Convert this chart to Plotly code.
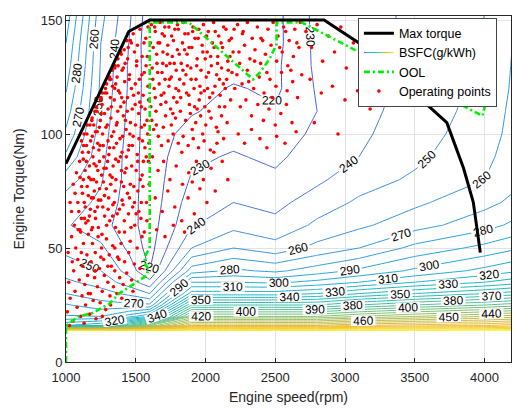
import plotly.graph_objects as go

# ---------------- BSFC map (g/kWh) ----------------
map_speed = [1000, 1250, 1450, 1600, 1900, 2200, 2500, 2800, 3100, 3500, 4000, 4200]
map_torque = [13.6, 16, 20, 25, 30, 35, 40, 50, 60, 70, 80, 90, 100, 110, 120, 130, 140, 152]

bsfc_1000 = [551, 320, 291, 281, 270, 262, 256, 247, 241, 245, 255, 268, 278, 285, 291, 296, 300, 306]
bsfc_1250 = [551, 330, 290, 274, 264, 256, 250, 242, 234, 238, 241, 243, 245, 247, 248, 249, 250, 253]
bsfc_1450 = [551, 380, 305, 272, 258, 245, 236, 228, 224, 225, 226, 226, 227, 228, 229, 229, 230, 232]
bsfc_1600 = [551, 420, 320, 272, 250, 233, 220, 216, 215, 214, 214, 214, 214, 214, 214, 214, 213, 214]
bsfc_1900 = [551, 480, 420, 370, 325, 300, 275, 250, 239, 235, 231, 228, 224, 219, 216, 214, 214, 215]
bsfc_2200 = [551, 480, 420, 370, 325, 300, 282, 260, 247, 240, 235, 231, 227, 224, 221, 216, 214, 214]
bsfc_2500 = [551, 480, 420, 370, 325, 298, 278, 254, 243, 237, 232, 228, 225, 221, 218, 218, 217, 217]
bsfc_2800 = [551, 480, 420, 370, 330, 303, 285, 263, 252, 245, 238, 235, 232, 230, 231, 232, 232.5, 233]
bsfc_3100 = [551, 490, 430, 380, 340, 310, 292, 270, 258, 251.5, 246, 240, 238, 237, 236, 235, 235, 236]
bsfc_3500 = [551, 495, 440, 390, 350, 320, 302, 283, 266, 258, 251.5, 248, 246, 244, 243, 243, 243, 242]
bsfc_4000 = [551, 500, 450, 400, 360, 330, 313, 293, 276, 267, 260, 257, 255, 254, 253, 252, 251, 250]
bsfc_4200 = [551, 505, 455, 405, 365, 335, 318, 298, 282, 272, 267, 265, 263, 262, 261, 260.5, 260, 259.5]

bsfc_columns = [bsfc_1000, bsfc_1250, bsfc_1450, bsfc_1600, bsfc_1900, bsfc_2200,
                bsfc_2500, bsfc_2800, bsfc_3100, bsfc_3500, bsfc_4000, bsfc_4200]
bsfc_z = [[col[i] for col in bsfc_columns] for i in range(len(map_torque))]

# ---------------- Max torque curve ----------------
max_speed = [1000, 1450, 1600, 2850, 3100, 3730, 3850, 3920, 3970]
max_torque = [87, 145, 150, 150, 140, 105, 85, 70, 48]

# ---------------- Optimal operating line ----------------
ool_speed = [1000, 1000, 1090, 1190, 1310, 1380, 1430, 1520, 1580, 1590, 1560, 1575, 1600,
             1600, 1880, 2340, 2390, 2460, 2510, 2510, 2690, 3985, 4015, 4020, 4040]
ool_torque = [0, 16, 20, 21.5, 25.5, 30, 32, 35.5, 38, 41, 43.5, 47.5, 50,
              149, 149, 124, 127, 133, 139.5, 149, 149, 108, 115, 125, 150]

# ---------------- Operating points (speed rpm, torque Nm) ----------------
op_low_left = [
    (1010, 22), (1020, 35), (1015, 48), (1030, 28), (1040, 55), (1050, 18), (1055, 40), (1065, 31),
    (1070, 50), (1080, 24), (1085, 45), (1095, 36), (1100, 58), (1105, 20), (1115, 29), (1120, 42),
    (1125, 52), (1135, 34), (1140, 25), (1150, 47), (1155, 38), (1160, 56), (1170, 21), (1175, 30),
    (1180, 44), (1190, 52), (1195, 27), (1205, 37), (1210, 48), (1215, 19), (1225, 33), (1230, 55),
    (1240, 41), (1245, 26), (1255, 50), (1260, 31), (1270, 45), (1275, 38), (1285, 23), (1290, 54),
    (1300, 35), (1310, 47), (1315, 29), (1325, 42), (1335, 51), (1340, 33), (1350, 40), (1365, 30),
    (1370, 46), (1385, 37), (1395, 52), (1410, 34), (1420, 44), (1435, 39), (1450, 48), (1470, 36),
    (1490, 43), (1510, 50), (1530, 41), (1545, 55), (1060, 60), (1110, 63), (1190, 59), (1025, 16),
    (1045, 44), (1130, 17), (1260, 20), (1320, 25), (1400, 28), (1480, 31),
    (1040, 66), (1065, 74), (1075, 83), (1052, 78), (1030, 70), (1088, 58), (1210, 40), (1160, 30),
    (1110, 48), (1350, 50), (1300, 42), (1460, 53), (1420, 57), (1380, 45), (1250, 46),
]
op_main_blob = [
    (1105, 57), (1142, 61), (1183, 58), (1212, 63), (1258, 56), (1291, 60), (1334, 64), (1381, 57),
    (1418, 62), (1466, 59), (1503, 65), (1561, 57), (1092, 66), (1131, 70), (1168, 64), (1226, 68),
    (1249, 71), (1302, 67), (1346, 70), (1367, 65), (1409, 69), (1455, 72), (1522, 66), (1577, 70),
    (1118, 74), (1152, 77), (1196, 72), (1241, 76), (1276, 73), (1321, 78), (1352, 75), (1397, 79),
    (1441, 74), (1486, 77), (1532, 80), (1101, 81), (1137, 84), (1179, 80), (1216, 86), (1255, 82),
    (1288, 85), (1331, 81), (1376, 88), (1422, 83), (1471, 86), (1546, 82), (1591, 88), (1124, 89),
    (1161, 92), (1201, 87), (1236, 93), (1271, 90), (1312, 94), (1356, 89), (1402, 92), (1452, 95),
    (1511, 91), (1566, 94), (1111, 97), (1147, 95), (1189, 99), (1227, 96), (1262, 100), (1301, 97),
    (1342, 101), (1387, 98), (1431, 102), (1482, 99), (1541, 103), (1172, 104), (1211, 101),
    (1246, 106), (1286, 103), (1322, 107), (1361, 104), (1411, 108), (1462, 105), (1521, 109),
    (1581, 106), (1153, 104), (1187, 107), (1221, 110), (1259, 113), (1302, 111), (1346, 115),
    (1392, 112), (1441, 116), (1496, 113), (1553, 117), (1216, 112), (1251, 116), (1292, 118),
    (1333, 121), (1376, 119), (1421, 123), (1469, 120), (1526, 124), (1587, 121), (1261, 118),
    (1283, 120), (1321, 124), (1366, 125), (1411, 129), (1456, 126), (1506, 130), (1561, 127),
    (1291, 122), (1312, 125), (1352, 130), (1396, 135), (1442, 133), (1491, 136), (1546, 134),
    (1331, 128), (1372, 133), (1417, 137), (1461, 141), (1512, 139), (1572, 142), (1392, 136),
    (1436, 141), (1482, 144), (1531, 146), (1588, 147),
    (1132, 63), (1175, 67), (1203, 75), (1232, 59), (1268, 79), (1306, 72), (1338, 86), (1362, 96),
    (1398, 84), (1433, 90), (1478, 68), (1515, 75), (1555, 88), (1585, 100), (1168, 86), (1196, 94),
    (1239, 103), (1276, 109), (1318, 116), (1356, 122), (1402, 128), (1446, 138), (1497, 122),
    (1540, 112), (1574, 130), (1124, 80), (1150, 100), (1185, 106), (1228, 84), (1267, 95),
    (1298, 88), (1327, 99), (1371, 110), (1416, 114), (1458, 100), (1503, 84), (1548, 97),
    (1592, 115), (1118, 92), (1208, 110), (1247, 115), (1312, 124), (1350, 129), (1386, 118),
    (1426, 106), (1475, 111), (1519, 118), (1563, 104), (1597, 78), (1580, 62), (1540, 70),
    (1493, 60), (1448, 65), (1402, 71), (1355, 59), (1314, 62), (1277, 64), (1240, 88), (1198, 80),
    (1160, 73), (1129, 100),
    (1085, 70), (1098, 88), (1112, 77), (1126, 95), (1138, 68), (1146, 88), (1158, 62), (1164, 81),
    (1177, 97), (1182, 72), (1193, 90), (1199, 104), (1207, 66), (1219, 79), (1224, 101),
    (1233, 71), (1244, 95), (1252, 109), (1264, 68), (1272, 85), (1279, 118), (1289, 76),
    (1296, 104), (1307, 91), (1316, 82), (1325, 112), (1336, 69), (1343, 94), (1349, 120),
    (1358, 80), (1366, 105), (1374, 130), (1383, 67), (1391, 90), (1399, 116), (1406, 99),
    (1414, 77), (1424, 131), (1432, 85), (1439, 110), (1447, 93), (1453, 124), (1461, 78),
    (1468, 140), (1476, 95), (1484, 117), (1491, 70), (1498, 104), (1507, 132), (1514, 88),
    (1523, 98), (1529, 114), (1537, 63), (1544, 126), (1552, 77), (1559, 140), (1567, 111),
    (1575, 90), (1583, 134), (1594, 96),
]
op_mid_high = [
    (1612, 148), (1640, 145), (1675, 149), (1705, 143), (1738, 147), (1770, 141), (1805, 146),
    (1842, 149), (1875, 144), (1910, 147), (1948, 142), (1985, 148), (2020, 145), (2058, 149),
    (2095, 143), (2130, 147), (2170, 141), (2205, 146), (1625, 138), (1660, 140), (1695, 136),
    (1730, 139), (1762, 134), (1798, 137), (1835, 140), (1868, 135), (1902, 138), (1940, 133),
    (1976, 139), (2012, 136), (2050, 140), (2088, 134), (2122, 138), (2160, 132), (2198, 136),
    (1618, 129), (1652, 131), (1688, 127), (1720, 130), (1755, 125), (1790, 128), (1826, 131),
    (1860, 126), (1895, 129), (1932, 124), (1968, 128), (2005, 125), (2042, 130), (2080, 126),
    (2115, 129), (2152, 124), (2190, 127), (1632, 120), (1668, 122), (1702, 118), (1738, 121),
    (1772, 116), (1808, 119), (1845, 122), (1880, 117), (1918, 120), (1955, 115), (1992, 119),
    (2030, 116), (2068, 121), (2105, 117), (2142, 120), (2180, 115), (1608, 112), (1645, 110),
    (1680, 113), (1714, 108), (1750, 111), (1785, 107), (1820, 110), (1858, 106), (1892, 109),
    (1930, 105), (1965, 108), (2002, 104), (2040, 107), (2078, 103), (2115, 108), (2155, 105),
    (1628, 102), (1662, 99), (1698, 103), (1732, 97), (1768, 100), (1805, 96), (1840, 99),
    (1876, 95), (1912, 98), (1950, 94), (1990, 97), (2035, 93), (2082, 96), (2130, 98),
    (1650, 135), (1690, 144), (1745, 131), (1780, 146), (1815, 124), (1850, 137), (1885, 113),
    (1925, 142), (1960, 121), (1998, 133), (2025, 110), (2062, 138), (2100, 124), (2138, 112),
    (2175, 134), (1640, 116), (1710, 124), (1795, 114), (1870, 130), (1940, 111), (2015, 120),
    (2090, 101), (1615, 106), (1685, 95), (1755, 104), (1830, 92), (1905, 102), (1980, 100),
    (2060, 92),
    (1605, 140), (1622, 124), (1636, 147), (1648, 104), (1657, 127), (1672, 140), (1683, 117),
    (1694, 131), (1708, 147), (1716, 114), (1727, 135), (1742, 124), (1757, 143), (1766, 109),
    (1776, 131), (1788, 120), (1799, 148), (1812, 135), (1822, 116), (1838, 128), (1852, 144),
    (1864, 118), (1882, 138), (1897, 124), (1908, 145), (1922, 112), (1937, 130), (1952, 146),
    (1968, 118), (1981, 136), (1995, 112), (2008, 143), (2022, 127), (2037, 134), (2052, 118),
    (2070, 145), (2086, 131), (2099, 112), (2112, 140), (2128, 122), (2147, 146), (2163, 128),
    (2186, 142), (2210, 120),
]
op_mid_low = [
    (1620, 90), (1660, 84), (1700, 88), (1745, 80), (1790, 86), (1835, 78), (1880, 83), (1935, 88),
    (1985, 80), (2040, 85), (1640, 72), (1690, 66), (1730, 75), (1780, 68), (1830, 62), (1875, 72),
    (1920, 65), (1960, 76), (2010, 70), (1650, 58), (1710, 55), (1770, 60), (1850, 57), (1905, 79),
    (2070, 75), (2120, 88), (2160, 80),
]
op_right = [
    (2230, 148), (2265, 144), (2300, 149), (2335, 142), (2372, 147), (2410, 141), (2448, 146),
    (2485, 149), (2520, 143), (2560, 147), (2600, 141), (2640, 146), (2680, 149), (2240, 136),
    (2280, 139), (2318, 133), (2355, 137), (2395, 131), (2430, 135), (2470, 139), (2510, 132),
    (2550, 136), (2590, 130), (2630, 134), (2670, 138), (2225, 126), (2262, 122), (2300, 128),
    (2345, 120), (2385, 125), (2420, 118), (2462, 124), (2505, 121), (2545, 127), (2585, 119),
    (2625, 123), (2690, 126), (2250, 112), (2290, 115), (2330, 108), (2375, 113), (2415, 106),
    (2455, 111), (2500, 104), (2540, 109), (2580, 113), (2620, 105), (2660, 116), (2235, 100),
    (2280, 96), (2330, 102), (2390, 98), (2440, 94), (2510, 99), (2570, 96), (2650, 101),
    (2720, 145), (2760, 138), (2800, 148), (2840, 132), (2880, 143), (2925, 136), (2970, 147),
    (3010, 129), (3060, 140), (3110, 133), (3160, 146), (3210, 126), (2750, 124), (2830, 118),
    (2910, 121), (3000, 115), (3090, 119), (3180, 111), (2780, 105), (2950, 100),
    (2245, 131), (2270, 145), (2310, 123), (2352, 132), (2398, 142), (2440, 127), (2478, 116),
    (2532, 138), (2575, 145), (2612, 128), (2655, 140),
]
op_points = op_low_left + op_main_blob + op_mid_high + op_mid_low + op_right
op_speed = [p[0] for p in op_points]
op_torque = [p[1] for p in op_points]

x_ticks = [1000, 1500, 2000, 2500, 3000, 3500, 4000]
y_ticks = [0, 50, 100, 150]

FONT = "Liberation Sans"
AX = "#262626"

parula_like = [
    [0.00, "#4b4fd0"], [0.09, "#3a8ee0"], [0.24, "#20a8d8"], [0.39, "#1fbab8"],
    [0.55, "#60c088"], [0.70, "#b5bc50"], [0.85, "#f0b835"], [1.00, "#f8f020"],
]

fig = go.Figure()
fig.add_trace(go.Contour(
    x=map_speed, y=map_torque, z=bsfc_z,
    name="BSFC(g/kWh)", showlegend=True, legendrank=2,
    colorscale=parula_like, zmin=220, zmax=550, showscale=False,
    contours=dict(start=220, end=550, size=10, coloring="lines", showlabels=True,
                  labelfont=dict(family=FONT, size=12, color="black")),
    line=dict(width=1, smoothing=0), hoverinfo="skip",
))
fig.add_trace(go.Scatter(
    x=op_speed, y=op_torque, mode="markers", name="Operating points", legendrank=4,
    marker=dict(color="#ff0000", size=3.6, line=dict(width=0)),
))
fig.add_trace(go.Scatter(
    x=ool_speed, y=ool_torque, mode="lines", name="OOL", legendrank=3,
    line=dict(color="#00ee00", width=2.6, dash="6px,3px,2px,3px"),
))
fig.add_trace(go.Scatter(
    x=max_speed, y=max_torque, mode="lines", name="Max torque", legendrank=1,
    line=dict(color="black", width=3),
))

fig.update_layout(
    width=514, height=409,
    margin=dict(l=66, r=3, t=16, b=47),
    paper_bgcolor="white", plot_bgcolor="white",
    font=dict(family=FONT, size=13, color=AX),
    legend=dict(x=0.656, y=0.995, xanchor="left", yanchor="top", bgcolor="white",
                bordercolor="#444444", borderwidth=1, font=dict(size=12.5, color="black"),
                tracegroupgap=0, itemwidth=30),
)
fig.update_xaxes(range=[1000, 4190], tickvals=x_ticks, showgrid=True, gridcolor="#e3e3e3",
                 linecolor=AX, linewidth=1, mirror=True, ticks="inside", ticklen=4,
                 tickcolor=AX, zeroline=False, ticklabelstandoff=3,
                 title=dict(text="Engine speed(rpm)", font=dict(size=14), standoff=8))
fig.update_yaxes(range=[0, 151.8], tickvals=y_ticks, showgrid=True, gridcolor="#e3e3e3",
                 linecolor=AX, linewidth=1, mirror=True, ticks="inside", ticklen=4,
                 tickcolor=AX, zeroline=False,
                 title=dict(text="Engine Torque(Nm)", font=dict(size=14), standoff=12))

fig.write_html("out.html")
